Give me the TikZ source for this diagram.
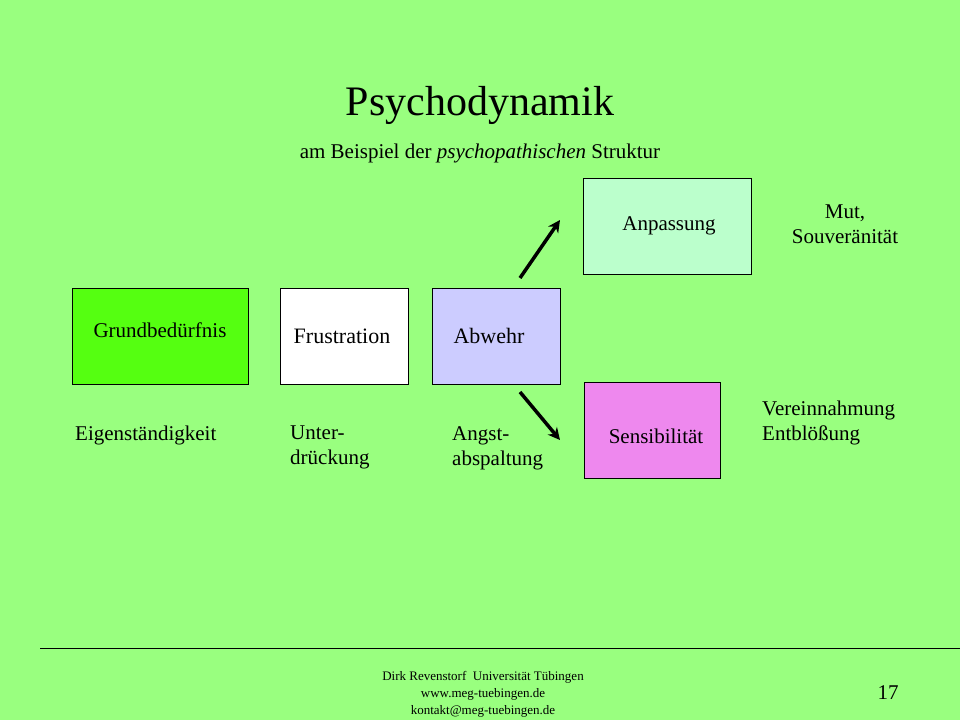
\documentclass[tikz,border=0pt]{standalone}
\usepackage{fontspec}
\setmainfont{Liberation Serif}
\usetikzlibrary{arrows.meta}
\definecolor{bg}{HTML}{99FF7F}
\definecolor{cgrund}{HTML}{55FF11}
\definecolor{canp}{HTML}{BBFFCC}
\definecolor{cabw}{HTML}{CCCCFF}
\definecolor{csens}{HTML}{EE88EE}
\begin{document}
\begin{tikzpicture}[x=1pt,y=-1pt,
  box/.style={draw=black,line width=0.8pt,anchor=north west,inner sep=0pt},
  lbl/.style={font=\fontsize{21}{25}\selectfont,align=left,anchor=north west,inner sep=0pt},
  arr/.style={line width=3.5pt,-{Stealth[length=12pt,width=12pt]}}]
\fill[bg] (0,0) rectangle (960,720);
\useasboundingbox (0,0) rectangle (960,720);
\node (title) at (480,105) {\fontsize{42}{46}\selectfont Psychodynamik};
\node (sub) at (480,153) {\fontsize{21}{25}\selectfont am Beispiel der \textit{psychopathischen} Struktur};
\node[box,fill=cgrund,minimum width=176pt,minimum height=96pt] (g) at (72,288) {};
\node[font=\fontsize{21}{25}\selectfont] (gt) at (160,330) {Grundbedürfnis};
\node[box,fill=white,minimum width=128pt,minimum height=96pt] (f) at (280,288) {};
\node[font=\fontsize{22}{25}\selectfont] (ft) at (342,336) {Frustration};
\node[box,fill=cabw,minimum width=128pt,minimum height=96pt] (a) at (432,288) {};
\node[font=\fontsize{22}{25}\selectfont,anchor=west] (at) at (450,336) {Abwehr};
\node[box,fill=canp,minimum width=168pt,minimum height=96pt] (p) at (583,178) {};
\node[font=\fontsize{21}{25}\selectfont] (pt) at (669,226) {Anpassung};
\node[box,fill=csens,minimum width=136pt,minimum height=96pt] (s) at (584,382) {};
\node[font=\fontsize{21}{25}\selectfont] (st) at (656,436) {Sensibilität};
\coordinate (u1) at (520,278); \coordinate (u2) at (560,220);
\coordinate (d1) at (520,392); \coordinate (d2) at (560,440);
\draw[arr] (u1) -- (u2);
\draw[arr] (d1) -- (d2);
\node[lbl] (l1) at (75,426) {Eigenständigkeit};
\node[lbl] (l2) at (290,426) {Unter-\\drückung};
\node[lbl] (l3) at (452,426) {Angst-\\abspaltung};
\node[font=\fontsize{21}{25}\selectfont,align=center] (l4) at (845,224) {Mut,\\Souveränität};
\node[lbl] (l5) at (762,401) {Vereinnahmung\\Entblößung};
\coordinate (fl) at (40,648); \coordinate (fr) at (960,648);
\draw[line width=0.6pt] (fl) -- (fr);
\node[font=\fontsize{13}{17}\selectfont,align=center] (foot) at (483,694) {Dirk Revenstorf\ \ Universität Tübingen\\www.meg-tuebingen.de\\kontakt@meg-tuebingen.de};
\node[font=\fontsize{21}{25}\selectfont] (num) at (888,693) {17};
\end{tikzpicture}
\end{document}
